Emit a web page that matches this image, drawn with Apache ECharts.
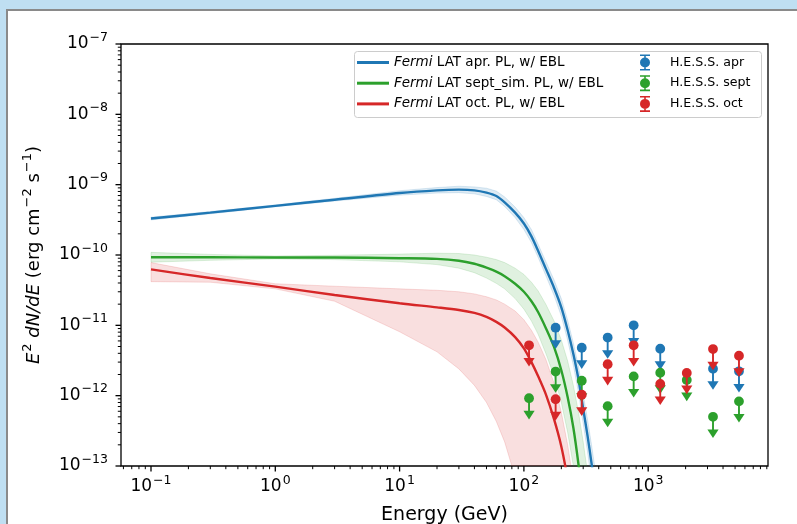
<!DOCTYPE html>
<html>
<head>
<meta charset="utf-8">
<script src="https://cdn.jsdelivr.net/npm/echarts@6.0.0/dist/echarts.min.js"></script>
<style>
html,body{margin:0;padding:0;width:797px;height:524px;overflow:hidden;background:#bfdff2;}
#paper{position:absolute;left:6px;top:9px;width:900px;height:600px;background:#fff;border-left:2px solid #8a8a8a;border-top:2px solid #8a8a8a;}
#chart{position:absolute;left:0;top:0;width:797px;height:524px;}
</style>
</head>
<body>
<div id="paper"></div>
<div id="chart"></div>
<script>
// ---------- data ----------
const energy = [0.1, 0.3, 1, 3, 10, 20, 30, 40, 50, 60, 70, 85, 100, 115, 130, 150, 175, 200, 225, 250, 275, 300, 325, 350, 400];

const aprFit = [3.3e-10, 4.0e-10, 5.0e-10, 6.1e-10, 7.6e-10, 8.3e-10, 8.5e-10, 8.3e-10, 7.7e-10, 6.9e-10, 5.6e-10, 4.0e-10, 2.8e-10, 1.84e-10, 1.15e-10, 6.4e-11, 3.4e-11, 1.8e-11, 8.5e-12, 3.9e-12, 1.7e-12, 6.5e-13, 2.7e-13, 1.1e-13, 2e-14];
const aprLo  = [3.15e-10, 3.85e-10, 4.85e-10, 5.85e-10, 7.1e-10, 7.6e-10, 7.7e-10, 7.4e-10, 6.8e-10, 6.1e-10, 4.9e-10, 3.4e-10, 2.3e-10, 1.5e-10, 9.3e-11, 5.1e-11, 2.65e-11, 1.35e-11, 6.1e-12, 2.7e-12, 1.1e-12, 4e-13, 1.6e-13, 6e-14, 1e-14];
const aprHi  = [3.45e-10, 4.15e-10, 5.15e-10, 6.4e-10, 8.2e-10, 9.1e-10, 9.5e-10, 9.3e-10, 8.9e-10, 8.1e-10, 6.7e-10, 4.8e-10, 3.4e-10, 2.3e-10, 1.43e-10, 8.1e-11, 4.4e-11, 2.4e-11, 1.18e-11, 5.6e-12, 2.6e-12, 1.05e-12, 4.6e-13, 2e-13, 4e-14];

const septFit = [9.3e-11, 9.3e-11, 9.2e-11, 9.2e-11, 9.0e-11, 8.8e-11, 8.3e-11, 7.5e-11, 6.6e-11, 5.8e-11, 5.0e-11, 3.9e-11, 3.0e-11, 2.2e-11, 1.55e-11, 9.2e-12, 4.9e-12, 2.3e-12, 9.5e-13, 3.5e-13, 1.05e-13, 2.8e-14, 6e-15, 1e-15, 1e-17];
const septLo  = [7.9e-11, 8.4e-11, 8.8e-11, 8.6e-11, 8.0e-11, 7.3e-11, 6.5e-11, 5.6e-11, 4.7e-11, 3.95e-11, 3.3e-11, 2.4e-11, 1.7e-11, 1.15e-11, 7.5e-12, 4.0e-12, 1.9e-12, 8e-13, 3e-13, 1.0e-13, 2.8e-14, 7e-15, 1.4e-15, 2e-16, 1e-18];
const septHi  = [1.09e-10, 1.02e-10, 9.7e-11, 9.9e-11, 1.03e-10, 1.06e-10, 1.05e-10, 1.0e-10, 9.3e-11, 8.6e-11, 7.8e-11, 6.5e-11, 5.3e-11, 4.1e-11, 3.1e-11, 2.0e-11, 1.15e-11, 6.2e-12, 3.1e-12, 1.4e-12, 5.8e-13, 2.2e-13, 8e-14, 2.6e-14, 2e-15];

const octFit = [6.25e-11, 4.7e-11, 3.55e-11, 2.7e-11, 2.06e-11, 1.8e-11, 1.65e-11, 1.5e-11, 1.32e-11, 1.12e-11, 9.3e-12, 6.8e-12, 4.7e-12, 3.0e-12, 1.9e-12, 1.05e-12, 4.6e-13, 1.9e-13, 6.5e-14, 2e-14, 5e-15, 1e-15, 2e-16, 3e-17, 1e-19];
const octLo  = [4.18e-11, 4.1e-11, 3.3e-11, 2.2e-11, 8.1e-12, 4.2e-12, 2.4e-12, 1.4e-12, 8e-13, 4.3e-13, 2.2e-13, 7e-14, 2e-14, 5e-15, 1e-15, 1e-16, 1e-17, 1e-18, 1e-19, 1e-20, 1e-21, 1e-22, 1e-23, 1e-24, 1e-25];
const octHi  = [7.8e-11, 5.4e-11, 3.9e-11, 3.6e-11, 3.3e-11, 3.15e-11, 3.0e-11, 2.8e-11, 2.55e-11, 2.3e-11, 2.0e-11, 1.6e-11, 1.2e-11, 8.5e-12, 5.8e-12, 3.3e-12, 1.5e-12, 5.8e-13, 2e-13, 6e-14, 1.5e-14, 3e-15, 6e-16, 1e-16, 1e-17];

const hessEnergy = [110, 180, 292, 472, 764, 1250, 2043, 3322, 5375];
const hessApr  = [null, 9.25e-12, 4.8e-12, 6.7e-12, 1.0e-11, 4.65e-12, null, 2.42e-12, 2.22e-12];
const hessSept = [9.2e-13, 2.2e-12, 1.63e-12, 7.1e-13, 1.88e-12, 2.12e-12, 1.67e-12, 5.0e-13, 8.3e-13];
const hessOct  = [5.2e-12, 8.9e-13, 1.03e-12, 2.8e-12, 5.2e-12, 1.47e-12, 2.1e-12, 4.6e-12, 3.7e-12];

const lineNames = ['Fermi LAT apr. PL, w/ EBL', 'Fermi LAT sept_sim. PL, w/ EBL', 'Fermi LAT oct. PL, w/ EBL'];
const hessNames = ['H.E.S.S. apr', 'H.E.S.S. sept', 'H.E.S.S. oct'];

const X_MIN = 0.05737, X_MAX = 9201, Y_MIN = 1e-13, Y_MAX = 1e-7;

// ---------- styling ----------
const FONT = 'DejaVu Sans';
const C_BLUE = '#1f77b4', C_GREEN = '#2ca02c', C_RED = '#d62728';
const F_BLUE = 'rgba(31,119,180,0.15)', F_GREEN = 'rgba(44,160,44,0.15)', F_RED = 'rgba(214,39,40,0.15)';

function powLabel(v) {
  const l = Math.log10(v), r = Math.round(l);
  if (Math.abs(l - r) > 1e-6) return '';
  return '{b|10}{s|' + (r < 0 ? '\u2212' : '') + Math.abs(r) + '}';
}
const labelRich = {
  b: {fontFamily: FONT, fontSize: 17, color: '#000', lineHeight: 17, verticalAlign: 'middle'},
  s: {fontFamily: FONT, fontSize: 12.5, color: '#000', lineHeight: 13, padding: [0, 0, 13, 1], verticalAlign: 'middle'}
};

// tick positions (axis decoration)
const xMajor = [], xMinor = [], yMajor = [], yMinor = [];
for (let d = -2; d <= 4; d++) {
  const base = Math.pow(10, d);
  if (base >= X_MIN && base <= X_MAX) xMajor.push(base);
  for (let k = 2; k <= 9; k++) { const v = k * base; if (v > X_MIN && v < X_MAX) xMinor.push(v); }
}
for (let d = -13; d <= -7; d++) {
  const base = Math.pow(10, d);
  yMajor.push(base);
  for (let k = 2; k <= 9; k++) { const v = k * base; if (v < Y_MAX) yMinor.push(v); }
}

function bandSeries(name, lo, hi, fill) {
  return {
    type: 'custom', name: name, coordinateSystem: 'cartesian2d', silent: true, z: 1,
    data: [[energy[0], lo[0]]],
    renderItem: function (params, api) {
      const top = energy.map((e, i) => api.coord([e, hi[i]]));
      const bot = energy.map((e, i) => api.coord([e, lo[i]])).reverse();
      const cs = params.coordSys;
      return {
        type: 'polygon',
        shape: {points: top.concat(bot)},
        style: {fill: fill, stroke: fill, lineWidth: 1},
        clipPath: {type: 'rect', shape: {x: cs.x, y: cs.y, width: cs.width, height: cs.height}}
      };
    }
  };
}

function lineSeries(name, vals, color) {
  return {
    type: 'line', name: name, data: energy.map((e, i) => [e, vals[i]]),
    showSymbol: false, smooth: 0.3, z: 2, silent: true,
    lineStyle: {color: color, width: 2.4}, itemStyle: {color: color}
  };
}

function hessSeries(name, vals, color, z) {
  const data = [];
  hessEnergy.forEach((e, i) => { if (vals[i] != null) data.push([e, vals[i]]); });
  return {
    type: 'custom', name: name, coordinateSystem: 'cartesian2d', silent: true, z: z,
    itemStyle: {color: color},
    data: data,
    renderItem: function (params, api) {
      const e = api.value(0), v = api.value(1);
      const p = api.coord([e, v]);
      const q = api.coord([e, v / 2]);
      return {
        type: 'group',
        children: [
          {type: 'line', shape: {x1: p[0], y1: p[1], x2: q[0], y2: q[1] - 4}, style: {stroke: color, lineWidth: 1.9}},
          {type: 'polygon', shape: {points: [[q[0] - 5.6, q[1] - 8.6], [q[0] + 5.6, q[1] - 8.6], [q[0], q[1]]]}, style: {fill: color}},
          {type: 'circle', shape: {cx: p[0], cy: p[1], r: 4.9}, style: {fill: color}}
        ]
      };
    }
  };
}

function tickSeries(name, list, isX, major) {
  return {
    type: 'custom', name: name, coordinateSystem: 'cartesian2d', silent: true, z: 5,
    data: list.map(v => isX ? [v, Y_MIN] : [X_MIN, v]),
    renderItem: function (params, api) {
      const p = api.coord([api.value(0), api.value(1)]);
      const len = major ? 5.5 : 3.2;
      const shape = isX ? {x1: p[0], y1: p[1], x2: p[0], y2: p[1] + len}
                        : {x1: p[0], y1: p[1], x2: p[0] - len, y2: p[1]};
      return {type: 'line', shape: shape, style: {stroke: '#000', lineWidth: major ? 1.3 : 1}};
    }
  };
}

const errIcon = 'path://M1,0H11V1.6H1Z M1,14.4H11V16H1Z M5.2,1.6H6.8V3.4H5.2Z M5.2,12.6H6.8V14.4H5.2Z M1,8A5,5 0 1 1 11,8A5,5 0 1 1 1,8Z';
const leftText = {fontFamily: FONT, fontSize: 13.5, color: '#000', lineHeight: 16,
  rich: {i: {fontFamily: FONT, fontSize: 13.5, fontStyle: 'italic', color: '#000', lineHeight: 16}}};
const rightText = {fontFamily: FONT, fontSize: 12.6, color: '#000', lineHeight: 16, padding: [0, 0, 0, 14]};

const chart = echarts.init(document.getElementById('chart'), null, {renderer: 'canvas'});
chart.setOption({
  animation: false,
  backgroundColor: 'transparent',
  grid: {left: 121, top: 44, right: 29, bottom: 58, containLabel: false, outerBoundsMode: 'none',
         show: true, borderColor: '#000', borderWidth: 1.3, backgroundColor: 'transparent'},
  xAxis: {
    type: 'log', logBase: 10, min: X_MIN, max: X_MAX,
    axisLine: {show: false}, axisTick: {show: false}, splitLine: {show: false}, minorTick: {show: false},
    axisLabel: {formatter: powLabel, rich: labelRich, margin: 12.5, color: '#000', hideOverlap: false},
    name: 'Energy (GeV)', nameLocation: 'middle', nameGap: 40,
    nameTextStyle: {fontFamily: FONT, fontSize: 19, color: '#000'}
  },
  yAxis: {
    type: 'log', logBase: 10, min: Y_MIN, max: Y_MAX,
    axisLine: {show: false}, axisTick: {show: false}, splitLine: {show: false}, minorTick: {show: false},
    axisLabel: {formatter: powLabel, rich: labelRich, margin: 13, color: '#000', hideOverlap: false},
    name: '{i|E}{p|2}{n| }{i|dN/dE}{n| (erg cm}{p|\u22122}{n| s}{p|\u22121}{n|)}',
    nameLocation: 'middle', nameRotate: 90, nameGap: 66,
    nameTextStyle: {fontFamily: FONT, fontSize: 18, color: '#000', rich: {
      i: {fontFamily: FONT, fontSize: 18, fontStyle: 'italic', color: '#000', lineHeight: 18, verticalAlign: 'middle'},
      n: {fontFamily: FONT, fontSize: 18, color: '#000', lineHeight: 18, verticalAlign: 'middle'},
      p: {fontFamily: FONT, fontSize: 13, color: '#000', lineHeight: 13, padding: [0, 0, 14, 1], verticalAlign: 'middle'}
    }}
  },
  legend: [
    {
      data: lineNames.map(n => ({name: n, icon: 'rect'})),
      orient: 'vertical', left: 357, top: 54.5, padding: 0, itemWidth: 32, itemHeight: 3, itemGap: 4.7,
      selectedMode: false, textStyle: leftText,
      formatter: n => '{i|Fermi}' + n.slice(5)
    },
    {
      data: hessNames.map(n => ({name: n, icon: errIcon})),
      orient: 'vertical', left: 640, top: 54.5, padding: 0, itemWidth: 12, itemHeight: 16, itemGap: 4.7,
      selectedMode: false, textStyle: rightText
    }
  ],
  graphic: [{
    type: 'rect', z: 0, silent: true,
    shape: {x: 354.5, y: 51.5, width: 407, height: 66, r: 3},
    style: {fill: 'rgba(255,255,255,0.8)', stroke: '#cccccc', lineWidth: 1}
  }],
  series: [
    bandSeries('band apr', aprLo, aprHi, F_BLUE),
    bandSeries('band sept', septLo, septHi, F_GREEN),
    bandSeries('band oct', octLo, octHi, F_RED),
    lineSeries(lineNames[0], aprFit, C_BLUE),
    lineSeries(lineNames[1], septFit, C_GREEN),
    lineSeries(lineNames[2], octFit, C_RED),
    hessSeries(hessNames[0], hessApr, C_BLUE, 3),
    hessSeries(hessNames[1], hessSept, C_GREEN, 4),
    hessSeries(hessNames[2], hessOct, C_RED, 5),
    tickSeries('xmaj', xMajor, true, true),
    tickSeries('xmin', xMinor, true, false),
    tickSeries('ymaj', yMajor, false, true),
    tickSeries('ymin', yMinor, false, false)
  ]
});
</script>
</body>
</html>
